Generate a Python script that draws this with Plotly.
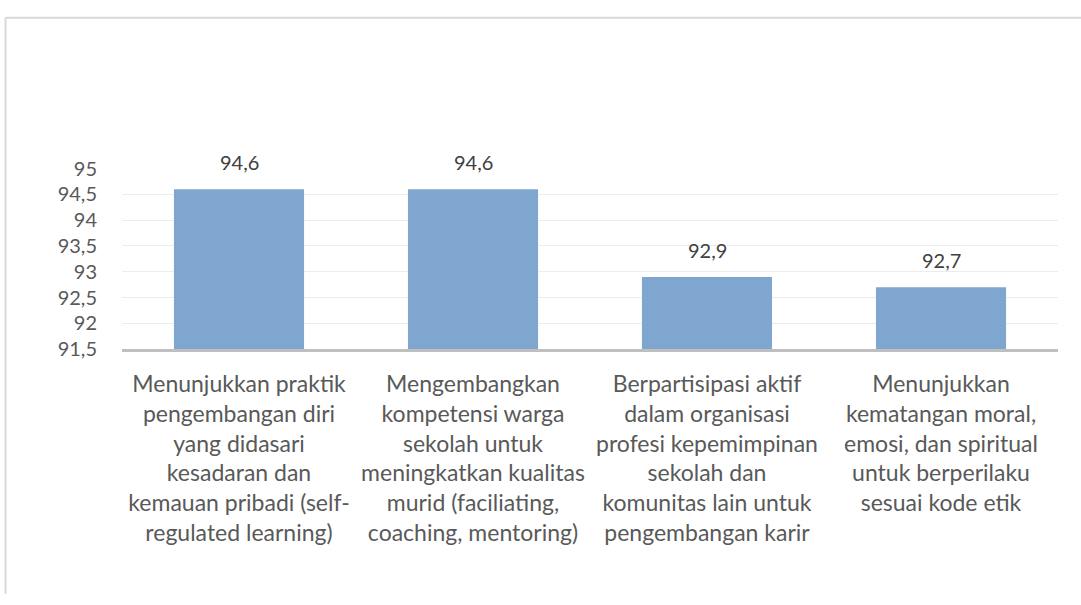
import plotly.graph_objects as go

categories = [
    "Menunjukkan praktik<br>pengembangan diri<br>yang didasari<br>kesadaran dan<br>kemauan pribadi (self-<br>regulated learning)",
    "Mengembangkan<br>kompetensi warga<br>sekolah untuk<br>meningkatkan kualitas<br>murid (faciliating,<br>coaching, mentoring)",
    "Berpartisipasi aktif<br>dalam organisasi<br>profesi kepemimpinan<br>sekolah dan<br>komunitas lain untuk<br>pengembangan karir",
    "Menunjukkan<br>kematangan moral,<br>emosi, dan spiritual<br>untuk berperilaku<br>sesuai kode etik",
]
values = [94.6, 94.6, 92.9, 92.7]
y_ticks = [91.5, 92, 92.5, 93, 93.5, 94, 94.5, 95]
y_ticktext = ["91,5", "92", "92,5", "93", "93,5", "94", "94,5", "95"]

W, H = 1081, 605
FONT = "Lato"
TXT = "#595959"

fig = go.Figure(go.Bar(
    x=list(range(len(categories))),
    y=[v - 91.5 for v in values],
    base=91.5,
    marker=dict(color="#7fa6cf", line=dict(width=0)),
    hoverinfo="skip",
))

for i, v in enumerate(values):
    fig.add_annotation(x=i, y=v, text=f"{v:.1f}".replace(".", ","),
                       showarrow=False, yanchor="bottom", yshift=13,
                       font=dict(family=FONT, size=20, color="#404040"))

x0, x1 = 122, 1058
ytop, ybot = 162, 350
fig.update_layout(
    width=W, height=H,
    margin=dict(l=0, r=0, t=0, b=0),
    paper_bgcolor="white", plot_bgcolor="white",
    showlegend=False,
    bargap=0.444,
    font=dict(family=FONT, color=TXT),
    xaxis=dict(
        domain=[x0 / W, x1 / W],
        range=[-0.5, len(categories) - 0.5],
        tickmode="array", tickvals=list(range(len(categories))), ticktext=categories,
        tickfont=dict(family=FONT, size=23, color=TXT),
        showgrid=False, zeroline=False,
        showline=True, linecolor="#bfbfbf", linewidth=3,
        ticks="", ticklabelstandoff=12,
        anchor="y",
    ),
    yaxis=dict(
        domain=[1 - ybot / H, 1 - ytop / H],
        range=[91.5, 95],
        tickmode="array", tickvals=y_ticks, ticktext=y_ticktext,
        tickfont=dict(family=FONT, size=20, color=TXT),
        showgrid=True, gridcolor="#ececec", gridwidth=1,
        zeroline=False, showline=False, ticks="",
        ticklabelstandoff=24,
    ),
)

fig.add_shape(type="line", xref="paper", yref="paper",
              x0=5.5 / W, x1=5.5 / W, y0=0, y1=1 - 5 / H,
              line=dict(color="#d9d9d9", width=2))
fig.add_shape(type="line", xref="paper", yref="paper",
              x0=5.5 / W, x1=1, y0=1 - 5 / H, y1=1 - 5 / H,
              line=dict(color="#d9d9d9", width=2))

fig.write_html("out.html", config={"displayModeBar": False},
               post_script="document.body.style.margin='0';")
